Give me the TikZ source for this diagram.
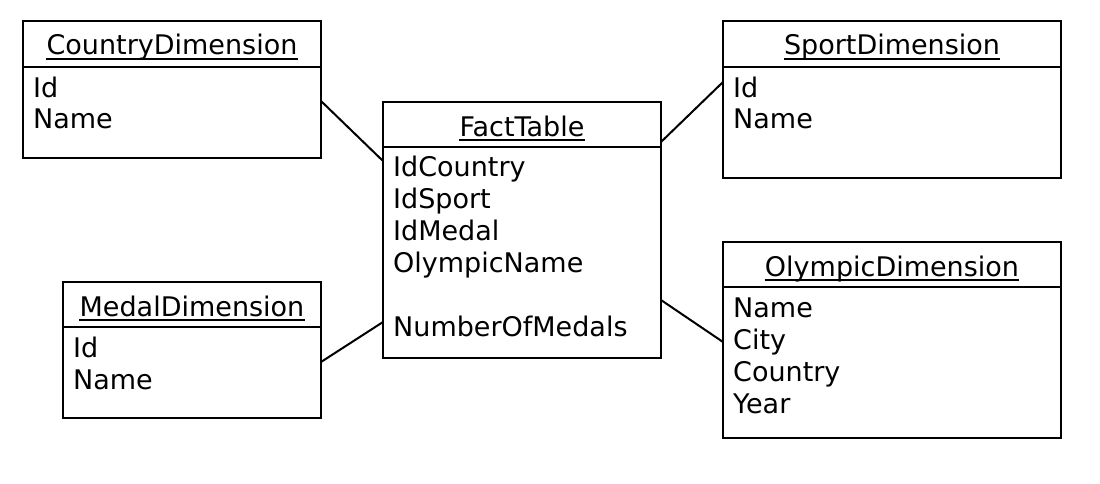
\documentclass[tikz,border=0pt]{standalone}
\usepackage{fontspec}
\setmainfont{DejaVu Sans}
\usetikzlibrary{positioning}

\begin{document}
\begin{tikzpicture}[x=1pt, y=-1pt,
    dimbox/.style={draw, line width=2pt, inner sep=0pt, outer sep=0pt, anchor=north west},
    dimtitle/.style={font=\fontsize{27}{32}\selectfont, inner sep=0pt, anchor=base},
    dimattrs/.style={font=\fontsize{27}{32}\selectfont, inner sep=0pt, align=left, anchor=base west},
    rel/.style={line width=2pt}]
	\useasboundingbox (0,0) rectangle (1100,484);

	% Tabelle (riquadri)
	\node[dimbox, minimum width=298pt, minimum height=137pt] (country) at (23,21) {};
	\node[dimbox, minimum width=338pt, minimum height=157pt] (sport) at (723,21) {};
	\node[dimbox, minimum width=278pt, minimum height=256pt] (fact) at (383,102) {};
	\node[dimbox, minimum width=258pt, minimum height=136pt] (medal) at (63,282) {};
	\node[dimbox, minimum width=338pt, minimum height=196pt] (olympic) at (723,242) {};

	% Linee di intestazione
	\draw[rel] ([yshift=-46pt]country.north west) -- ([yshift=-46pt]country.north east);
	\draw[rel] ([yshift=-46pt]sport.north west) -- ([yshift=-46pt]sport.north east);
	\draw[rel] ([yshift=-45pt]fact.north west) -- ([yshift=-45pt]fact.north east);
	\draw[rel] ([yshift=-45pt]medal.north west) -- ([yshift=-45pt]medal.north east);
	\draw[rel] ([yshift=-45pt]olympic.north west) -- ([yshift=-45pt]olympic.north east);

	% Nomi delle tabelle
	\node[dimtitle] (countrytitle) at ([yshift=-34pt]country.north) {CountryDimension};
	\node[dimtitle] (sporttitle) at ([yshift=-34pt]sport.north) {SportDimension};
	\node[dimtitle] (facttitle) at ([yshift=-34pt]fact.north) {FactTable};
	\node[dimtitle] (medaltitle) at ([yshift=-34pt]medal.north) {MedalDimension};
	\node[dimtitle] (olympictitle) at ([yshift=-34pt]olympic.north) {OlympicDimension};
	\foreach \t in {countrytitle, sporttitle, facttitle, medaltitle, olympictitle}
		\draw[line width=1.3pt] ([yshift=-4pt]\t.base west) -- ([yshift=-4pt]\t.base east);

	% Attributi (base = ultima riga)
	\node[dimattrs] (countryattrs) at ([xshift=10pt, yshift=-108pt]country.north west) {Id\\Name};
	\node[dimattrs] (sportattrs) at ([xshift=10pt, yshift=-108pt]sport.north west) {Id\\Name};
	\node[dimattrs] (factattrs) at ([xshift=10pt, yshift=-234pt]fact.north west) {IdCountry\\IdSport\\IdMedal\\OlympicName\\[32pt]NumberOfMedals};
	\node[dimattrs] (medalattrs) at ([xshift=10pt, yshift=-107pt]medal.north west) {Id\\Name};
	\node[dimattrs] (olympicattrs) at ([xshift=10pt, yshift=-171pt]olympic.north west) {Name\\City\\Country\\Year};

	% Collegamenti
	\draw[rel] ([yshift=-80pt]country.north east) -- ([yshift=-59pt]fact.north west);
	\draw[rel] ([yshift=-80pt]medal.north east) -- ([yshift=-220pt]fact.north west);
	\draw[rel] ([yshift=-61pt]sport.north west) -- ([yshift=-40pt]fact.north east);
	\draw[rel] ([yshift=-100pt]olympic.north west) -- ([yshift=-198pt]fact.north east);
\end{tikzpicture}
\end{document}
